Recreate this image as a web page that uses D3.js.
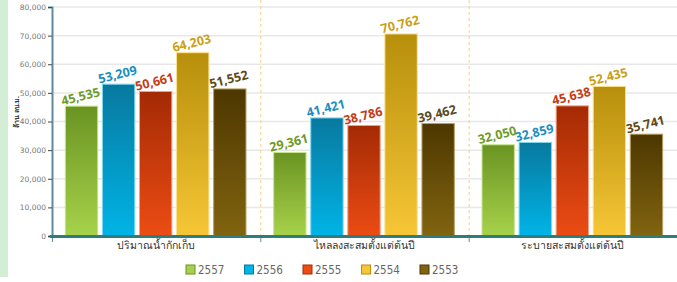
<!DOCTYPE html>
<html><head><meta charset="utf-8">
<script src="https://cdn.jsdelivr.net/npm/d3@7"></script>
<style>html,body{margin:0;padding:0;background:#fff;}svg{display:block;}</style>
</head><body>
<svg id="c" width="677" height="282"></svg>
<script>
const categories = ["ปริมาณน้ำกักเก็บ", "ไหลลงสะสมตั้งแต่ต้นปี", "ระบายสะสมตั้งแต่ต้นปี"];
const years = ["2557", "2556", "2555", "2554", "2553"];
const v2557 = [45535, 29361, 32050];
const v2556 = [53209, 41421, 32859];
const v2555 = [50661, 38786, 45638];
const v2554 = [64203, 70762, 52435];
const v2553 = [51552, 39462, 35741];
const yTicks = [0, 10000, 20000, 30000, 40000, 50000, 60000, 70000, 80000];
const yTitle = "ล้าน ลบ.ม.";

const seriesValues = [v2557, v2556, v2555, v2554, v2553];
const topCol = ["#6a9422", "#08799f", "#a42a04", "#b78f0b", "#4d3700"];
const botCol = ["#a6d24b", "#00b4e6", "#ec4c14", "#f6c636", "#816410"];
const edgeCol = ["#c6e48a", "#7fd6f0", "#f6a080", "#fbe08c", "#b8a060"];
const lblCol = ["#6e9a28", "#1a8ec0", "#c43c18", "#c9a016", "#5c4a1a"];

const svg = d3.select("#c");
const m = {l: 52, r: 677, t: 7, b: 236};

svg.append("rect").attr("x", 0).attr("y", 0).attr("width", 8).attr("height", 277).attr("fill", "#d4edd5");

const defs = svg.append("defs");
years.forEach((y, i) => {
  const g = defs.append("linearGradient").attr("id", "g" + i).attr("x1", 0).attr("y1", 0).attr("x2", 0).attr("y2", 1);
  g.append("stop").attr("offset", "0%").attr("stop-color", topCol[i]);
  g.append("stop").attr("offset", "100%").attr("stop-color", botCol[i]);
});

const y = d3.scaleLinear().domain([0, 80000]).range([m.b, m.t]);
const x0 = d3.scaleBand().domain(categories).range([m.l, m.r]);
const x1 = d3.scaleBand().domain(years).range([11, x0.bandwidth() - 12]).paddingInner(0.1).paddingOuter(0.05);

// gridlines
svg.append("g").selectAll("line").data(yTicks.slice(1)).join("line")
  .attr("x1", m.l).attr("x2", m.r).attr("y1", d => y(d)).attr("y2", d => y(d))
  .attr("stroke", "#e8e8e8").attr("stroke-width", 1.5);

// dividers
svg.append("g").selectAll("line").data(categories.slice(1)).join("line")
  .attr("x1", d => x0(d) + 0.5).attr("x2", d => x0(d) + 0.5).attr("y1", 0).attr("y2", m.b)
  .attr("stroke", "#f5d17e").attr("stroke-width", 1).attr("stroke-dasharray", "3,3");

// bars
const groups = svg.append("g").selectAll("g").data(categories).join("g")
  .attr("transform", d => `translate(${x0(d)},0)`);
groups.each(function(cat, ci) {
  const g = d3.select(this);
  years.forEach((yr, si) => {
    const v = seriesValues[si][ci];
    g.append("rect").attr("x", x1(yr) + 0.5).attr("y", y(v) + 0.5)
      .attr("width", x1.bandwidth() - 1).attr("height", y(0) - y(v) - 1)
      .attr("fill", `url(#g${si})`).attr("stroke", edgeCol[si]).attr("stroke-width", 1);
  });
});
groups.each(function(cat, ci) {
  const g = d3.select(this);
  years.forEach((yr, si) => {
    const v = seriesValues[si][ci];
    const cx = x1(yr) + x1.bandwidth() / 2;
    g.append("text").attr("transform", `translate(${cx},${y(v) - 5}) rotate(-14)`)
      .attr("text-anchor", "middle")
      .attr("font-family", "'Open Sans', sans-serif").attr("font-weight", "bold").attr("font-size", 12.5)
      .attr("fill", lblCol[si]).text(d3.format(",")(v));
  });
});

// y axis
const ya = svg.append("g").attr("transform", `translate(${m.l},0)`)
  .call(d3.axisLeft(y).tickValues(yTicks).tickFormat(d3.format(",")).tickSize(4).tickPadding(2));
ya.select(".domain").attr("stroke", "#5d8d9c").attr("stroke-width", 2);
ya.selectAll(".tick line").attr("stroke", "#444");
ya.selectAll(".tick text").attr("fill", "#777").attr("font-size", 7.5).attr("font-family", "'DejaVu Sans', sans-serif");

svg.append("text").attr("transform", `translate(19,112) rotate(-90)`).attr("text-anchor", "middle")
  .attr("font-size", 7).attr("font-weight", "bold").attr("fill", "#333")
  .attr("font-family", "Tahoma, 'Noto Sans', sans-serif").text(yTitle);

// x axis
const xa = svg.append("g").attr("transform", `translate(0,${m.b})`)
  .call(d3.axisBottom(x0).tickSize(0).tickPadding(6));
xa.select(".domain").remove();
xa.selectAll(".tick text").attr("font-size", 10.5).attr("fill", "#333")
  .attr("font-family", "Tahoma, 'Noto Sans', sans-serif");
svg.append("g").selectAll("line").data(categories).join("line")
  .attr("x1", d => x0(d) + 0.5).attr("x2", d => x0(d) + 0.5).attr("y1", m.b).attr("y2", m.b + 6)
  .attr("stroke", "#5d8d9c").attr("stroke-width", 1);
svg.append("line").attr("x1", m.l - 2).attr("x2", m.r).attr("y1", m.b + 0.5).attr("y2", m.b + 0.5)
  .attr("stroke", "#2d7d7e").attr("stroke-width", 3);

// legend
const lg = svg.append("g").selectAll("g").data(years).join("g")
  .attr("transform", (d, i) => `translate(${186 + i * 58.5},265)`);
lg.append("rect").attr("width", 9).attr("height", 9).attr("fill", (d, i) => botCol[i])
  .attr("stroke", (d, i) => topCol[i]).attr("stroke-width", 1);
lg.append("text").attr("x", 12).attr("y", 9).attr("font-size", 11.5).attr("fill", "#666")
  .attr("font-family", "'DejaVu Sans Condensed', 'Liberation Sans Narrow', sans-serif").text(d => d);
</script>
</body></html>
